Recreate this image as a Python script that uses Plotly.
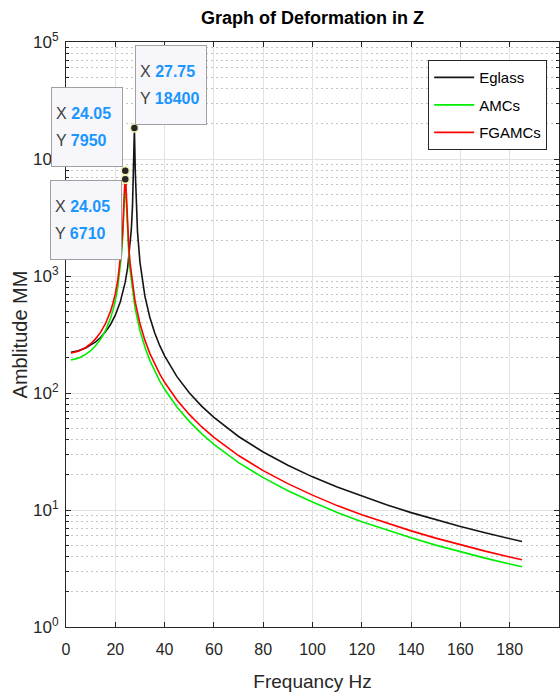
import math
import plotly.graph_objects as go

# ---------------- data ----------------
freq_eglass = [2, 5, 8, 10, 12, 14, 16, 18, 20, 22, 23, 24, 25, 26, 26.5, 27, 27.4, 27.75, 28.1,
               28.5, 29, 30, 31, 32, 34, 36, 38, 40, 45, 50, 55, 60, 70, 80, 90, 100, 110, 120,
               130, 140, 150, 160, 170, 180, 185]
amp_eglass = [223, 230, 242, 255, 273, 298, 333, 383, 462, 598, 709, 881, 1176, 1810, 2500, 4070,
              8000, 18400, 7880, 3950, 2400, 1315, 895, 673, 444, 326, 255, 208, 138, 100.5, 77.3,
              61.8, 42.5, 31.3, 24.1, 19.2, 15.7, 13.1, 11.1, 9.5, 8.25, 7.22, 6.38, 5.68, 5.37]

freq_fg = [2, 5, 8, 10, 12, 14, 16, 18, 19, 20, 21, 22, 22.5, 23, 23.4, 23.7, 24.05, 24.4, 24.7,
           25, 25.5, 26, 27, 28, 30, 32, 34, 36, 38, 40, 45, 50, 55, 60, 70, 80, 90, 100, 110,
           120, 130, 140, 150, 160, 170, 180, 185]
amp_fgamcs = [219.5, 227.8, 245.1, 263.6, 290.3, 329.7, 391.1, 495.6, 580, 706.8, 917.7, 1336,
              1748, 2440, 3656, 5512, 7950, 5395, 3539, 2551, 1740, 1290, 837, 613, 392, 283, 218,
              175.7, 145.7, 123.4, 87.2, 65.6, 51.5, 41.7, 29.2, 21.7, 16.8, 13.4, 10.9, 9.12,
              7.73, 6.63, 5.75, 5.04, 4.45, 3.96, 3.75]
amp_amcs = [191.3, 198.6, 213.6, 229.7, 253.0, 287.4, 340.9, 432.0, 505.5, 616.0, 799.8, 1164,
            1523, 2121, 3165, 4730, 6710, 4630, 3063, 2215, 1520, 1126, 730, 534, 342, 247, 190,
            153, 127, 107.6, 76.0, 57.2, 44.9, 36.4, 25.4, 18.9, 14.6, 11.7, 9.54, 7.95, 6.73,
            5.78, 5.01, 4.39, 3.88, 3.45, 3.27]

x_ticks = [0, 20, 40, 60, 80, 100, 120, 140, 160, 180]
y_ticks = [1, 10, 100, 1000, 10000, 100000]
y_ticktext = ["10<sup>%d</sup>" % i for i in range(6)]
y_minor = [m * 10 ** d for d in range(5) for m in range(2, 10)]

FONT = "Liberation Sans, Arial, Helvetica, sans-serif"
TXT = "#262626"

fig = go.Figure()
fig.add_trace(go.Scatter(x=freq_eglass, y=amp_eglass, mode="lines", name="Eglass", legendgroup="a",
                         line=dict(color="#151515", width=1.6)))
fig.add_trace(go.Scatter(x=freq_fg, y=amp_amcs, mode="lines", name="AMCs", legendgroup="b",
                         line=dict(color="#00ee00", width=1.6)))
fig.add_trace(go.Scatter(x=freq_fg, y=amp_fgamcs, mode="lines", name="FGAMCs", legendgroup="c",
                         line=dict(color="#ff0000", width=1.6)))

# data-tip points (peaks of each series)
ie = amp_eglass.index(max(amp_eglass))
ir = amp_fgamcs.index(max(amp_fgamcs))
ig = amp_amcs.index(max(amp_amcs))
tips = [(freq_eglass[ie], amp_eglass[ie]), (freq_fg[ir], amp_fgamcs[ir]), (freq_fg[ig], amp_amcs[ig])]
fig.add_trace(go.Scatter(x=[t[0] for t in tips], y=[t[1] for t in tips], mode="markers",
                         showlegend=False, hoverinfo="skip",
                         marker=dict(size=8, color="#262626", line=dict(color="#f3f0b0", width=1.5))))


def tip_text(x, y):
    v = "<span style='color:#1a96ff;font-size:16px'><b>%s</b></span>"
    k = "<span style='font-size:16px'>%s </span>"
    return (k % "X") + (v % ("%.2f" % x)) + "<br>" + (k % "Y") + (v % ("%d" % round(y)))


specs = [
    (tips[0], "left", "bottom", 1, 3),
    (tips[1], "right", "bottom", -2, 4),
    (tips[2], "right", "top", -3, -1),
]
for (tx, ty), xa, ya, xs, ys in specs:
    fig.add_annotation(x=tx, y=math.log10(ty), xref="x", yref="y", text=tip_text(tx, ty),
                       showarrow=False, xanchor=xa, yanchor=ya, xshift=xs, yshift=ys,
                       align="left", valign="middle", width=62, height=70, borderpad=4,
                       bgcolor="#f7f7fb", bordercolor="#a0a0a0", borderwidth=1,
                       font=dict(family=FONT, size=21, color="#404040"))

fig.update_layout(
    width=560, height=696,
    margin=dict(l=66, r=1, t=42, b=69),
    paper_bgcolor="white", plot_bgcolor="white",
    title=dict(text="<b>Graph of Deformation in Z</b>", x=0.5, xref="paper", xanchor="center",
               y=1 - 18 / 696, yref="container", yanchor="middle",
               font=dict(family=FONT, size=18, color="#000000")),
    showlegend=True,
    legend=dict(x=0.976, xanchor="right", y=0.969, yanchor="top",
                bgcolor="white", bordercolor="#262626", borderwidth=1,
                font=dict(family=FONT, size=15, color="#000000"),
                tracegroupgap=5, itemwidth=40),
)

fig.update_xaxes(
    range=[0, 200], tickmode="array", tickvals=x_ticks, ticktext=[str(v) for v in x_ticks],
    showline=True, linecolor=TXT, linewidth=1, mirror="ticks",
    ticks="inside", ticklen=5, tickcolor=TXT, ticklabelstandoff=8,
    showgrid=True, gridcolor="#e2e2e2", gridwidth=1, zeroline=False,
    tickfont=dict(family=FONT, size=16, color=TXT),
    title=dict(text="Frequancy Hz", font=dict(family=FONT, size=19, color=TXT), standoff=17),
)
fig.update_yaxes(
    type="log", range=[0, 5], tickmode="array", tickvals=y_ticks, ticktext=y_ticktext,
    showline=True, linecolor=TXT, linewidth=1, mirror="ticks",
    ticks="inside", ticklen=5, tickcolor=TXT, ticklabelstandoff=3,
    showgrid=True, gridcolor="#e2e2e2", gridwidth=1, zeroline=False,
    tickfont=dict(family=FONT, size=17, color=TXT),
    minor=dict(tickvals=y_minor, ticks="inside", ticklen=3, tickcolor=TXT,
               showgrid=True, gridcolor="#c4c4c4", griddash="2px,3px", gridwidth=1),
    title=dict(text="Amblitude MM", font=dict(family=FONT, size=20, color=TXT), standoff=0),
)

fig.write_html("out.html")
